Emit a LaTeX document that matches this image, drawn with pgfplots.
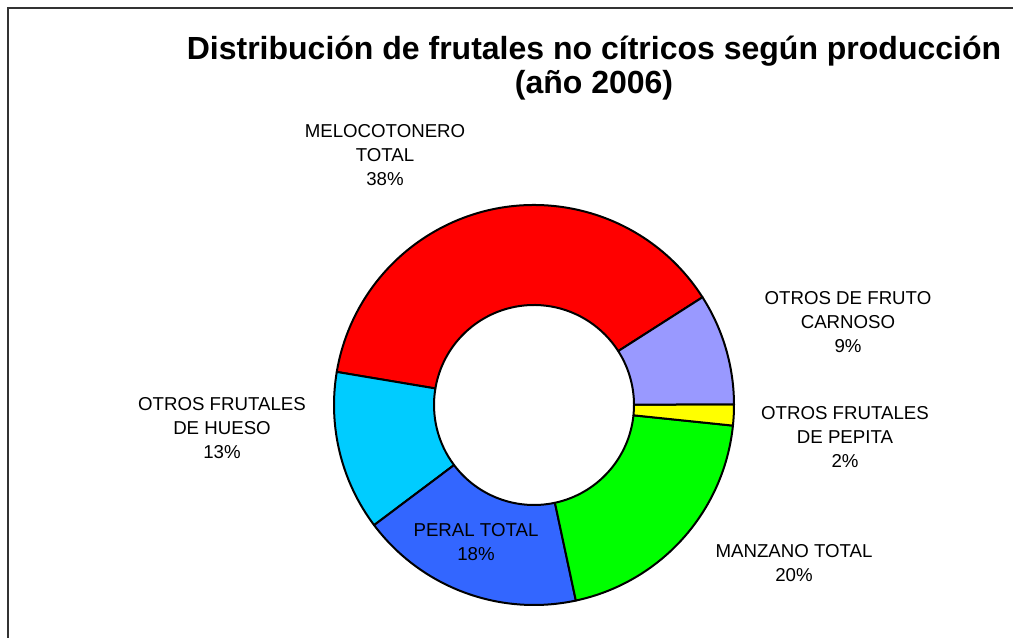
\documentclass[border=0pt]{standalone}
\usepackage{pgfplots}
\pgfplotsset{compat=1.18}
\usepackage{fontspec}
\setmainfont{Liberation Sans}

\definecolor{cRed}{HTML}{FF0000}
\definecolor{cCyan}{HTML}{00CCFF}
\definecolor{cBlue}{HTML}{3366FF}
\definecolor{cGreen}{HTML}{00FF00}
\definecolor{cYellow}{HTML}{FFFF00}
\definecolor{cLav}{HTML}{9999FF}

% one slice of the ring: start angle, share in %, fill colour
\newcommand\slice[3]{%
  \pgfmathsetmacro\sa{#1}\pgfmathsetmacro\se{#1+3.6*#2}%
  \edef\temp{\noexpand\filldraw[fill=#3, draw=black, line width=1.5pt, line join=round,
     shift={(axis cs:534,233)}]
     (\sa:150pt) arc[start angle=\sa, end angle=\se, radius=150pt]
     -- (\se:75pt) arc[start angle=\se, end angle=\sa, radius=75pt] -- cycle;}%
  \temp}

\begin{document}
\begin{tikzpicture}
\begin{axis}[
    hide axis,
    scale only axis,
    x=0.75pt, y=0.75pt,
    xmin=0, xmax=1013, ymin=0, ymax=638,
    clip=false,
]
% shares (%), counter-clockwise from 32.6 deg
\slice{32.6}{38.3}{cRed}      % melocotonero
\slice{170.48}{12.9}{cCyan}   % otros frutales de hueso
\slice{216.92}{18.1}{cBlue}   % peral
\slice{282.08}{20.0}{cGreen}  % manzano
\slice{354.08}{1.7}{cYellow}  % otros de pepita
\slice{360.2}{9.0}{cLav}      % otros de fruto carnoso

\draw[black!80, line width=1.5pt] (axis cs:8,0) -- (axis cs:8,630) -- (axis cs:1013,630);

\node[font=\bfseries\fontsize{24pt}{25.5pt}\selectfont, align=center]
  at (axis cs:594,570) {Distribución de frutales no cítricos según producción\\(año 2006)};

\tikzset{lbl/.style={font=\fontsize{14pt}{18pt}\selectfont, align=center}}
\node[lbl] at (axis cs:385,483) {MELOCOTONERO\\TOTAL\\38\%};
\node[lbl] at (axis cs:848,316) {OTROS DE FRUTO\\CARNOSO\\9\%};
\node[lbl] at (axis cs:845,201) {OTROS FRUTALES\\DE PEPITA\\2\%};
\node[lbl] at (axis cs:794,75) {MANZANO TOTAL\\20\%};
\node[lbl] at (axis cs:476,96) {PERAL TOTAL\\18\%};
\node[lbl] at (axis cs:222,210) {OTROS FRUTALES\\DE HUESO\\13\%};
\end{axis}
\pgfresetboundingbox
\path (current axis.south west) rectangle (current axis.north east);
\end{tikzpicture}
\end{document}
